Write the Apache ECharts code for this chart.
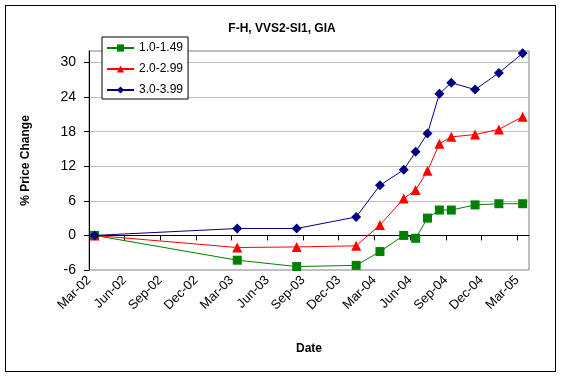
<!DOCTYPE html>
<html>
<head>
<meta charset="utf-8">
<script src="https://cdn.jsdelivr.net/npm/echarts@6/dist/echarts.min.js"></script>
<style>
  html, body { margin: 0; padding: 0; background: #fff; }
  #frame { position: absolute; left: 5px; top: 5px; width: 549px; height: 365px; border: 1px solid #000; }
  #chart { width: 561px; height: 376px; position: absolute; left: 0; top: 0; }
</style>
</head>
<body>
<div id="frame"></div>
<div id="chart"></div>
<script>
// sample dates (mid-month)
const dates = [
  "2002-03-15", "2003-03-15", "2003-08-15", "2004-01-15", "2004-03-15",
  "2004-05-15", "2004-06-15", "2004-07-15", "2004-08-15", "2004-09-15",
  "2004-11-15", "2005-01-15", "2005-03-15"
];
const carat1 = [0, -4.3, -5.4, -5.2, -2.8, 0, -0.5, 3.0, 4.4, 4.4, 5.3, 5.5, 5.5];
const carat2 = [0, -2.1, -2.0, -1.8, 1.8, 6.4, 7.9, 11.2, 15.9, 17.1, 17.5, 18.4, 20.6];
const carat3 = [0, 1.2, 1.2, 3.2, 8.7, 11.4, 14.5, 17.7, 24.6, 26.5, 25.3, 28.2, 31.6];
const seriesNames = ["1.0-1.49", "2.0-2.99", "3.0-3.99"];
const tickLabels = [
  "Mar-02", "Jun-02", "Sep-02", "Dec-02", "Mar-03", "Jun-03", "Sep-03",
  "Dec-03", "Mar-04", "Jun-04", "Sep-04", "Dec-04", "Mar-05"
];

// months since 1 Mar 2002
function monthIndex(s) {
  const p = s.split("-").map(Number);
  return (p[0] - 2002) * 12 + (p[1] - 3) + (p[2] - 1) / 30;
}
function pairs(vals) {
  return vals.map((v, i) => [monthIndex(dates[i]), v]);
}
const tickVals = tickLabels.map((_, i) => i * 3);
const yTicks = [-6, 0, 6, 12, 18, 24, 30];

const font = "Liberation Sans, Arial, sans-serif";
const myChart = echarts.init(document.getElementById("chart"));
myChart.setOption({
  animation: false,
  textStyle: { fontFamily: font },
  title: {
    text: "F-H, VVS2-SI1, GIA",
    left: 277, top: 18, textAlign: "center",
    textStyle: { fontSize: 12, fontWeight: "bold", color: "#000", fontFamily: font }
  },
  legend: {
    orient: "vertical",
    left: 102, top: 37,
    padding: [5, 5, 3, 4],
    itemGap: 9,
    itemWidth: 27, itemHeight: 9,
    borderColor: "#000", borderWidth: 1,
    backgroundColor: "#fff",
    textStyle: { fontSize: 12, color: "#000", fontFamily: font },
    data: seriesNames
  },
  grid: {
    left: 89, right: 32, top: 51, bottom: 106,
    show: true, borderColor: "#808080", borderWidth: 1
  },
  xAxis: {
    type: "value",
    min: 0, max: 37, interval: 3,
    name: "Date", nameLocation: "middle", nameGap: 73,
    nameTextStyle: { fontSize: 12, fontWeight: "bold", color: "#000", fontFamily: font },
    axisLine: { lineStyle: { color: "#000" } },
    axisTick: { length: 5, lineStyle: { color: "#000" }, customValues: tickVals },
    axisLabel: {
      rotate: 45, fontSize: 13, color: "#000", margin: 8,
      customValues: tickVals,
      formatter: v => tickLabels[Math.round(v / 3)] || ""
    },
    splitLine: { show: false }
  },
  yAxis: {
    type: "value",
    min: -6, max: 32, interval: 6,
    name: "% Price Change", nameLocation: "middle", nameGap: 57,
    nameTextStyle: { fontSize: 12, fontWeight: "bold", color: "#000", fontFamily: font },
    axisLine: { show: true, lineStyle: { color: "#000" } },
    axisTick: { show: true, length: 5, lineStyle: { color: "#000" }, customValues: yTicks },
    axisLabel: { fontSize: 14, color: "#000", margin: 13, customValues: yTicks },
    splitLine: { lineStyle: { color: "#c0c0c0" } }
  },
  series: [
    {
      name: seriesNames[0], type: "line", data: pairs(carat1),
      symbol: "rect", symbolSize: 9,
      lineStyle: { width: 1, color: "#008000" },
      itemStyle: { color: "#008000" }
    },
    {
      name: seriesNames[1], type: "line", data: pairs(carat2),
      symbol: "triangle", symbolSize: 10,
      lineStyle: { width: 1, color: "#ff0000" },
      itemStyle: { color: "#ff0000" }
    },
    {
      name: seriesNames[2], type: "line", data: pairs(carat3),
      symbol: "diamond", symbolSize: 10,
      lineStyle: { width: 1, color: "#000080" },
      itemStyle: { color: "#000080" }
    }
  ]
});
</script>
</body>
</html>
